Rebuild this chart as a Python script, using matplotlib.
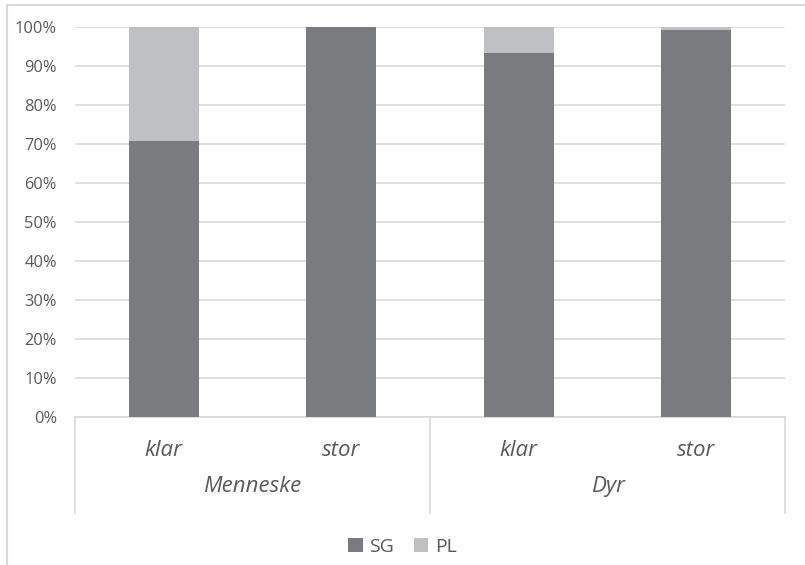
import numpy as np
import matplotlib.pyplot as plt
from matplotlib.patches import Rectangle

# data (share of SG / PL per adjective and noun group)
groups = ["Menneske", "Dyr"]
adjectives = ["klar", "stor", "klar", "stor"]
sg_vals = [70.8, 100.0, 93.4, 99.3]
pl_vals = [29.2, 0.0, 6.6, 0.7]
y_ticks = [0, 10, 20, 30, 40, 50, 60, 70, 80, 90, 100]

sg_color = "#7a7b7f"
pl_color = "#bfc0c2"
grid_color = "#d9d9d9"
text_color = "#595959"

plt.rcParams["font.family"] = ["Open Sans", "DejaVu Sans"]

fig = plt.figure(figsize=(8.05, 5.65), dpi=100)
ax = fig.add_axes([75 / 805, 1 - 417 / 565, 710 / 805, 390 / 565])

x = np.arange(len(adjectives))
width = 0.395
ax.bar(x, sg_vals, width, color=sg_color, label="SG", zorder=3)
ax.bar(x, pl_vals, width, bottom=sg_vals, color=pl_color, label="PL", zorder=3)

ax.set_xlim(-0.5, len(adjectives) - 0.5)
ax.set_ylim(0, 100)
ax.set_yticks(y_ticks)
ax.set_yticklabels([f"{v}%" for v in y_ticks], fontsize=11.8, color=text_color)
ax.yaxis.grid(True, color=grid_color, linewidth=1.2, zorder=0)
ax.tick_params(axis="y", length=0, pad=13)
ax.set_xticks([])
for s in ["top", "right", "left"]:
    ax.spines[s].set_visible(False)
ax.spines["bottom"].set_color(grid_color)
ax.spines["bottom"].set_linewidth(1.2)

# multi-level category axis
tr = ax.get_xaxis_transform()
for i, lab in enumerate(adjectives):
    ax.text(i, -0.085, lab, transform=tr, ha="center", va="center",
            fontsize=16, style="italic", color=text_color)
n_per = len(adjectives) // len(groups)
for g, name in enumerate(groups):
    ax.text(g * n_per + (n_per - 1) / 2, -0.178, name, transform=tr,
            ha="center", va="center", fontsize=16, style="italic", color=text_color)
for b in np.arange(len(groups) + 1) * n_per - 0.5:
    ax.plot([b, b], [0, -0.245], transform=tr, color=grid_color,
            linewidth=1.2, clip_on=False)

# chart border
fig.patches.append(Rectangle((7 / 805, -0.1), 1.2, 1 - 5 / 565 + 0.1,
                             transform=fig.transFigure, fill=False,
                             edgecolor=grid_color, linewidth=1.5))

leg = fig.legend(loc="center", bbox_to_anchor=(0.5, 1 - 547 / 565), ncol=2,
                 frameon=False, fontsize=14, handlelength=0.75, handleheight=0.75,
                 handletextpad=0.35, columnspacing=1.0)
for t in leg.get_texts():
    t.set_color(text_color)

fig.savefig("out.png", dpi=100)
